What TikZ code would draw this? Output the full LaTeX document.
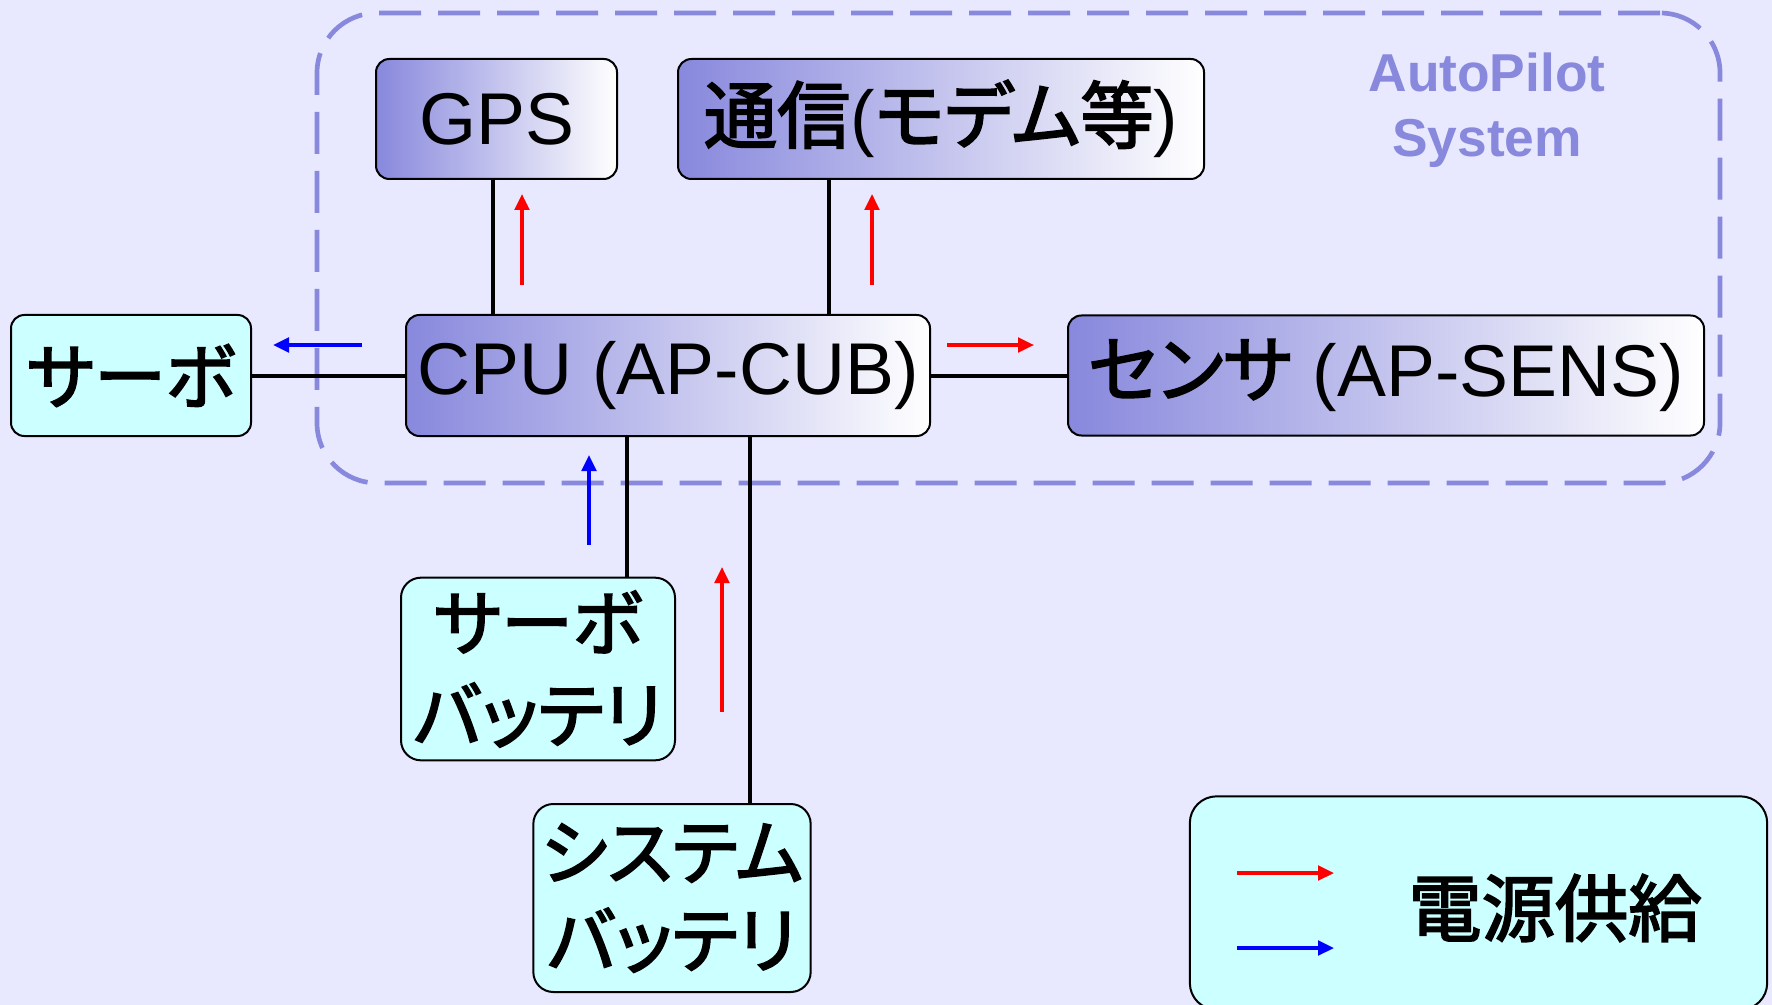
\documentclass[tikz,border=0pt]{standalone}
\usepackage{fontspec}
\setmainfont{Liberation Sans}
\newfontfamily\jp[RawFeature={+palt},FakeBold=2.5]{Noto Sans CJK JP}
\usetikzlibrary{arrows.meta,calc}
\definecolor{bgc}{RGB}{232,232,255}
\definecolor{gradc}{RGB}{136,136,221}
\definecolor{cyanbox}{RGB}{204,255,255}
\definecolor{dashc}{RGB}{136,136,221}
\begin{document}
\begin{tikzpicture}[x=0.75pt,y=-0.75pt,
  gbox/.style={draw=black,line width=1.5pt,rounded corners=10pt,left color=gradc,right color=white,inner sep=0pt,align=center,font=\fontsize{55}{66}\selectfont},
  cbox/.style={draw=black,line width=1.5pt,fill=cyanbox,inner sep=0pt,align=center},
  jpfont/.style={font=\jp\bfseries\fontsize{54}{69}\selectfont},
  wire/.style={line width=3pt,black},
  redarr/.style={line width=2.5pt,red,-{Triangle[length=12pt,width=11pt]}},
  bluearr/.style={line width=2.5pt,blue,-{Triangle[length=12pt,width=11pt]}},
]
\useasboundingbox (0,0) rectangle (1772,1005);
\fill[bgc] (0,0) rectangle (1772,1005);

% AutoPilot system frame
\node[draw=dashc,line width=3.5pt,dash pattern=on 31.5pt off 12.75pt,rounded corners=45pt,
      minimum width=1052.25pt,minimum height=352.5pt,inner sep=0pt] (apsys) at (1018.5,248) {};
\node[font=\bfseries\fontsize{40}{48}\selectfont,text=dashc,anchor=base] (ap1) at (1487,92) {AutoPilot};
\node[font=\bfseries\fontsize{40}{48}\selectfont,text=dashc,anchor=base] (ap2) at (1487,157) {System};

% boxes
\node[gbox,minimum width=180.75pt,minimum height=90pt] (gps) at (496.5,119) {GPS};
\node[gbox,minimum width=394.5pt,minimum height=90pt] (comm) at (941,119) {{\jp 通信}({\jp モデム等})};
\node[gbox,minimum width=393pt,minimum height=90.75pt] (cpu) at (668,375.5) {CPU (AP-CUB)};
\node[gbox,minimum width=477pt,minimum height=90pt] (sens) at (1386,375.5) {{\jp センサ} (AP-SENS)};
\node[cbox,font=\jp\fontsize{54}{69}\selectfont,rounded corners=10pt,minimum width=180pt,minimum height=90.75pt] (servo) at (131,375.5) {サーボ};
\node[cbox,font=\jp\fontsize{54}{69}\selectfont,rounded corners=15pt,minimum width=205.5pt,minimum height=137pt] (sbat) at (538,669) {サーボ\\バッテリ};
\node[cbox,font=\jp\fontsize{54}{66}\selectfont,rounded corners=15pt,minimum width=208pt,minimum height=141pt] (sysbat) at (672,898) {システム\\バッテリ};

% legend
\node[cbox,rounded corners=20pt,minimum width=433pt,minimum height=160pt] (legend) at (1478.5,903) {};
\node[font=\jp\fontsize{55}{66}\selectfont] (legtext) at (1555,908) {電源供給};

% wires
\coordinate (gx) at (493,0);
\coordinate (cx) at (829,0);
\coordinate (b1x) at (627,0);
\coordinate (b2x) at (750,0);
\draw[wire] (gps.south -| gx) -- (cpu.north -| gx);
\draw[wire] (comm.south -| cx) -- (cpu.north -| cx);
\draw[wire] (servo.east) -- (cpu.west);
\draw[wire] (cpu.east) -- (sens.west);
\draw[wire] (cpu.south -| b1x) -- (sbat.north -| b1x);
\draw[wire] (cpu.south -| b2x) -- (sysbat.north -| b2x);

% power supply arrows
\draw[redarr] (522,285) -- (522,194);
\draw[redarr] (872,285) -- (872,194);
\draw[bluearr] (362,345) -- (273,345);
\draw[redarr] (947,345) -- (1034,345);
\draw[bluearr] (589,545) -- (589,455);
\draw[redarr] (722,712) -- (722,567);
\draw[redarr] (1237,873) -- (1334,873);
\draw[bluearr] (1237,948) -- (1334,948);
\end{tikzpicture}
\end{document}
